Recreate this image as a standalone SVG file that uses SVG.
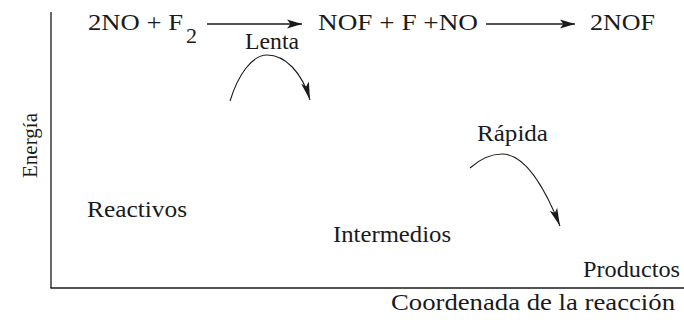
<svg xmlns="http://www.w3.org/2000/svg" width="684" height="320" viewBox="0 0 684 320">
<style>
text{font-family:"Liberation Serif","Times New Roman",Times,serif;fill:#1a1a1a;font-size:24px}
.ln{stroke:#1a1a1a;fill:none;stroke-width:1.3}
.cv{stroke:#1a1a1a;fill:none;stroke-width:1.1}
</style>
<defs>
<marker id="ah" viewBox="-16 -5 17 10" markerWidth="17" markerHeight="10" refX="0" refY="0" orient="auto" markerUnits="userSpaceOnUse">
<path d="M0,0 L-15,-4.5 L-11.5,0 L-15,4.5 Z" fill="#1a1a1a"/>
</marker>
<marker id="ac" viewBox="-19 -5 20 10" markerWidth="20" markerHeight="10" refX="0" refY="0" orient="auto" markerUnits="userSpaceOnUse">
<path d="M0,0 L-18,-4 L-14,0 L-18,4 Z" fill="#1a1a1a"/>
</marker>
</defs>
<g id="axes">
<line class="ln" x1="51" y1="12" x2="51" y2="288"/>
<line class="ln" x1="50.4" y1="288" x2="684" y2="288"/>
</g>
<g id="connectors">
<line class="ln" x1="207" y1="24" x2="302" y2="24" marker-end="url(#ah)"/>
<line class="ln" x1="486" y1="24" x2="575" y2="24" marker-end="url(#ah)"/>
<path class="cv" d="M230,101 C238,75 252,55 267,55 C285,55 302,72 310,100" marker-end="url(#ac)"/>
<path class="cv" d="M470,168 C480,159 490,154 502,154 C528,154 549,198 560,226" marker-end="url(#ac)"/>
</g>
<g id="equation">
<text x="88" y="30" textLength="95" lengthAdjust="spacingAndGlyphs">2NO + F</text>
<text x="186" y="43" textLength="11" lengthAdjust="spacingAndGlyphs" style="font-size:21px">2</text>
<text x="318" y="30" textLength="160" lengthAdjust="spacingAndGlyphs">NOF + F +NO</text>
<text x="590" y="30" textLength="65" lengthAdjust="spacingAndGlyphs">2NOF</text>
</g>
<g id="lenta"><text x="245" y="49" textLength="54" lengthAdjust="spacingAndGlyphs">Lenta</text></g>
<g id="rapida"><text x="477" y="141" textLength="71" lengthAdjust="spacingAndGlyphs">Rápida</text></g>
<g id="reactivos"><text x="87" y="217" textLength="100" lengthAdjust="spacingAndGlyphs">Reactivos</text></g>
<g id="intermedios"><text x="333" y="242" textLength="118" lengthAdjust="spacingAndGlyphs">Intermedios</text></g>
<g id="productos"><text x="583" y="277" textLength="97" lengthAdjust="spacingAndGlyphs">Productos</text></g>
<g id="xlabel"><text x="391" y="310" textLength="284" lengthAdjust="spacingAndGlyphs">Coordenada de la reacción</text></g>
<g id="ylabel"><text transform="translate(37,145.5) rotate(-90)" text-anchor="middle" style="font-size:22px" textLength="65" lengthAdjust="spacingAndGlyphs">Energía</text></g>
</svg>
